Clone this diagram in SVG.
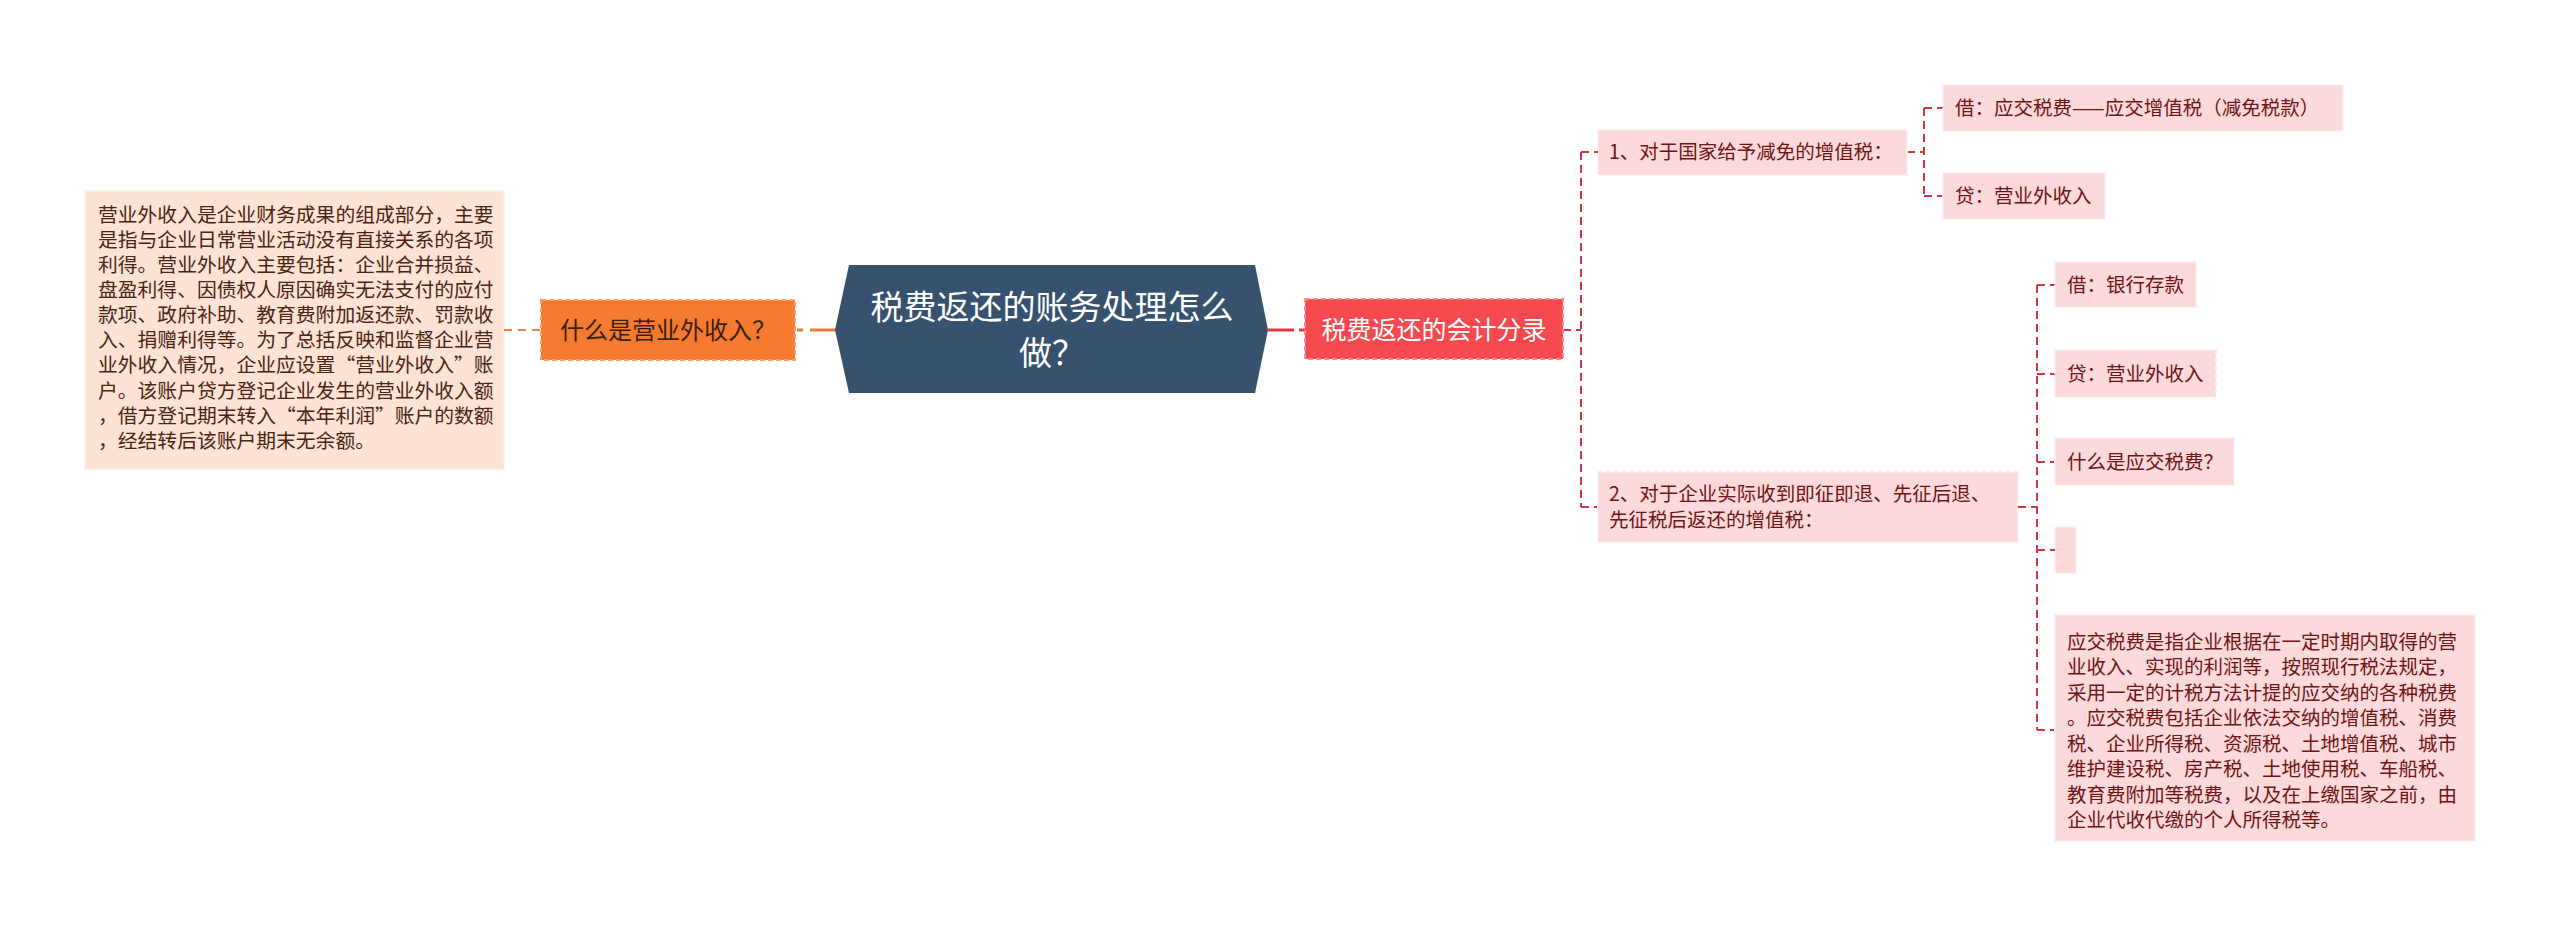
<svg xmlns="http://www.w3.org/2000/svg" width="2560" height="927" viewBox="0 0 2560 927">
<style>
text{font-family:"Noto Sans CJK SC","Noto Sans",sans-serif;}
.pink{fill:#fcd9db;stroke:#fdeced;stroke-width:2;stroke-dasharray:5,3;}
.pt{font-size:19.5px;fill:#6e1414;}
.rc{stroke:#d23640;stroke-width:2;stroke-dasharray:8,5;fill:none;}
.lt{font-size:19.8px;fill:#4a2414;}
</style>
<rect width="2560" height="927" fill="#ffffff"/>
<g id="connectors">
<line x1="504" y1="330" x2="541" y2="330" stroke="#e8864a" stroke-width="2" stroke-dasharray="8,6"/>
<line x1="797" y1="330" x2="803" y2="330" stroke="#ef7a33" stroke-width="3"/>
<line x1="810" y1="330" x2="836" y2="330" stroke="#ef7a33" stroke-width="3"/>
<line x1="1268" y1="330" x2="1294" y2="330" stroke="#e5383f" stroke-width="3"/>
<line x1="1299" y1="330" x2="1305" y2="330" stroke="#e5383f" stroke-width="3"/>
<path class="rc" d="M1563 330H1581M1581 152V507M1581 152H1598M1581 507H1598"/>
<path class="rc" d="M1907 152H1924M1924 108V196M1924 108H1943M1924 196H1943"/>
<path class="rc" d="M2018 507H2037M2037 285V730M2037 285H2055M2037 374H2055M2037 462H2055M2037 550H2055M2037 730H2055"/>
</g>
<g id="left-detail">
<rect x="85" y="191" width="419" height="278" fill="#fde3d3" stroke="#fef0e6" stroke-width="2" stroke-dasharray="5,3"/>
<text class="lt" x="98"><tspan x="98" y="222">营业外收入是企业财务成果的组成部分，主要</tspan><tspan x="98" y="247">是指与企业日常营业活动没有直接关系的各项</tspan><tspan x="98" y="272">利得。营业外收入主要包括：企业合并损益、</tspan><tspan x="98" y="297">盘盈利得、因债权人原因确实无法支付的应付</tspan><tspan x="98" y="322">款项、政府补助、教育费附加返还款、罚款收</tspan><tspan x="98" y="347">入、捐赠利得等。为了总括反映和监督企业营</tspan><tspan x="98" y="372">业外收入情况，企业应设置“营业外收入”账</tspan><tspan x="98" y="398">户。该账户贷方登记企业发生的营业外收入额</tspan><tspan x="98" y="423">，借方登记期末转入“本年利润”账户的数额</tspan><tspan x="98" y="448">，经结转后该账户期末无余额。</tspan></text>
</g>
<g id="orange-node">
<rect x="541" y="300" width="254" height="60" fill="#f47a30" stroke="#f9a06a" stroke-width="2" stroke-dasharray="5,3"/>
<text x="668" y="339" text-anchor="middle" font-size="24" fill="#3b1e0e">什么是营业外收入？</text>
</g>
<g id="central">
<polygon points="835,330 849,265 1255,265 1268,330 1255,393 849,393" fill="#36526e"/>
<text x="1052" y="319" text-anchor="middle" font-size="33" fill="#ffffff">税费返还的账务处理怎么</text>
<text x="1052" y="365" text-anchor="middle" font-size="33" fill="#ffffff">做？</text>
</g>
<g id="red-node">
<rect x="1305" y="299" width="258" height="60" fill="#f5484f" stroke="#f98a8e" stroke-width="2" stroke-dasharray="5,3"/>
<text x="1434" y="339" text-anchor="middle" font-size="25" fill="#ffffff">税费返还的会计分录</text>
</g>
<g id="n1">
<rect class="pink" x="1598" y="130" width="309" height="45"/>
<text class="pt" x="1609" y="159">1、对于国家给予减免的增值税：</text>
</g>
<g id="n1a">
<rect class="pink" x="1943" y="85" width="400" height="46"/>
<text class="pt" x="1955" y="115">借：应交税费——应交增值税（减免税款）</text>
</g>
<g id="n1b">
<rect class="pink" x="1943" y="173" width="162" height="46"/>
<text class="pt" x="1955" y="203">贷：营业外收入</text>
</g>
<g id="n2">
<rect class="pink" x="1598" y="472" width="420" height="70"/>
<text class="pt" x="1609" y="501">2、对于企业实际收到即征即退、先征后退、</text>
<text class="pt" x="1609" y="527">先征税后返还的增值税：</text>
</g>
<g id="n2a">
<rect class="pink" x="2055" y="262" width="141" height="45"/>
<text class="pt" x="2067" y="292">借：银行存款</text>
</g>
<g id="n2b">
<rect class="pink" x="2055" y="350" width="161" height="47"/>
<text class="pt" x="2067" y="381">贷：营业外收入</text>
</g>
<g id="n2c">
<rect class="pink" x="2055" y="438" width="179" height="47"/>
<text class="pt" x="2067" y="469">什么是应交税费？</text>
</g>
<g id="n2d">
<rect class="pink" x="2055" y="527" width="21" height="46"/>
</g>
<g id="n2e">
<rect class="pink" x="2055" y="615" width="420" height="226"/>
<text class="pt" font-size="19.8"><tspan x="2067" y="649">应交税费是指企业根据在一定时期内取得的营</tspan><tspan x="2067" y="674">业收入、实现的利润等，按照现行税法规定，</tspan><tspan x="2067" y="700">采用一定的计税方法计提的应交纳的各种税费</tspan><tspan x="2067" y="725">。应交税费包括企业依法交纳的增值税、消费</tspan><tspan x="2067" y="751">税、企业所得税、资源税、土地增值税、城市</tspan><tspan x="2067" y="776">维护建设税、房产税、土地使用税、车船税、</tspan><tspan x="2067" y="802">教育费附加等税费，以及在上缴国家之前，由</tspan><tspan x="2067" y="827">企业代收代缴的个人所得税等。</tspan></text>
</g>
</svg>
